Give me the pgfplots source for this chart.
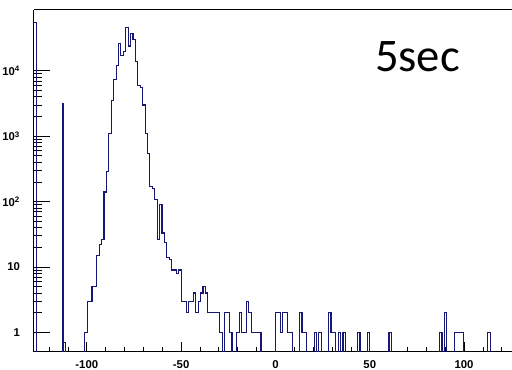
\documentclass[border=0pt]{standalone}
\usepackage{fontspec}
\setmainfont{Liberation Sans}
\newfontfamily\carlito{Carlito}
\usepackage{pgfplots}
\pgfplotsset{compat=1.18}
\usepackage{pgfplotstable}
\definecolor{histblue}{RGB}{22,22,115}
\pgfplotstableread{
x y
-128.00 55000
-126.72 0.1
-112.66 3200
-112.64 0.7
-111.36 0.1
-101.12 1
-99.84 3
-98.56 3
-97.28 5
-96.00 5
-94.72 15
-93.44 22
-92.16 26
-90.88 140
-89.60 290
-88.32 1100
-87.04 3500
-85.76 7300
-84.48 12000
-83.20 26500
-81.92 17000
-80.64 20000
-79.36 46000
-78.08 24000
-76.80 37000
-75.52 30000
-74.24 14000
-72.96 6000
-71.68 5500
-70.40 3000
-69.12 1100
-67.84 550
-66.56 170
-65.28 160
-64.00 108
-62.72 26
-61.44 90
-60.16 33
-58.88 24
-57.60 14
-56.32 13
-55.04 9
-53.76 9
-52.48 8
-51.20 9
-49.92 3
-48.64 3
-47.36 2
-46.08 3
-44.80 3
-43.52 4
-42.24 2
-40.96 3
-39.68 4
-38.40 5
-37.12 4
-35.84 2
-29.44 1
-28.16 0.1
-26.88 2
-24.32 1
-23.04 0.1
-20.48 1
-19.20 2
-17.92 1
-15.36 3
-14.08 2
-12.80 1
-7.68 0.1
0.00 2
2.56 1
3.84 2
6.40 1
8.96 0.1
12.80 2
14.08 1
16.64 0.1
20.48 1
21.76 0.1
23.04 1
24.32 0.1
28.16 2
29.44 1
32.00 0.1
33.28 1
34.56 0.1
35.84 1
37.12 0.1
43.52 1
44.80 0.1
48.64 1
49.92 0.1
60.16 1
61.44 0.1
87.04 1
88.32 0.1
89.60 2
90.88 0.1
94.72 1
99.84 0.1
112.64 1
113.92 0.1
128.00 0.1
}\hist
\begin{document}
\begin{tikzpicture}
\begin{axis}[
  at={(0,0)}, anchor=south west,
  scale only axis, width=358.5pt, height=256.5pt,
  xmin=-128, xmax=125.4,
  ymode=log, ymin=0.5, ymax=85300,
  axis x line=box, axis y line=left,
  axis line style={-, line width=0.75pt, black},
  tick align=inside,
  xtick pos=bottom,
  xtick={-100,-50,0,50,100},
  xticklabels={-100,-50,0,50,100},
  minor xtick={-120,-110,-90,-80,-70,-60,-40,-30,-20,-10,10,20,30,40,60,70,80,90,110,120},
  ytick={1,10,100,1000,10000},
  yticklabels={1,10,10\textsuperscript{2},10\textsuperscript{3},10\textsuperscript{4}},
  major tick length=7.5pt, minor tick length=3.75pt,
  xtick style={/pgfplots/major tick length=7.5pt,/pgfplots/minor tick length=3.75pt, line width=0.6pt, black},
  ytick style={/pgfplots/major tick length=12pt,/pgfplots/minor tick length=5.8pt, line width=0.6pt, black},
  tick label style={font=\fontsize{8.5}{9}\selectfont\bfseries},
  xticklabel style={yshift=-2.8pt},
  yticklabel style={xshift=-7pt},
]
\addplot[const plot, histblue, line width=0.85pt] table {\hist};
\node[anchor=base west, inner sep=0, font=\carlito\fontsize{35}{40}\selectfont] at (rel axis cs:0.713,0.819) {5sec};
\end{axis}
\pgfresetboundingbox
\path[use as bounding box] (-25.5pt,-13.5pt) rectangle (358.5pt,264pt);
\end{tikzpicture}
\end{document}
